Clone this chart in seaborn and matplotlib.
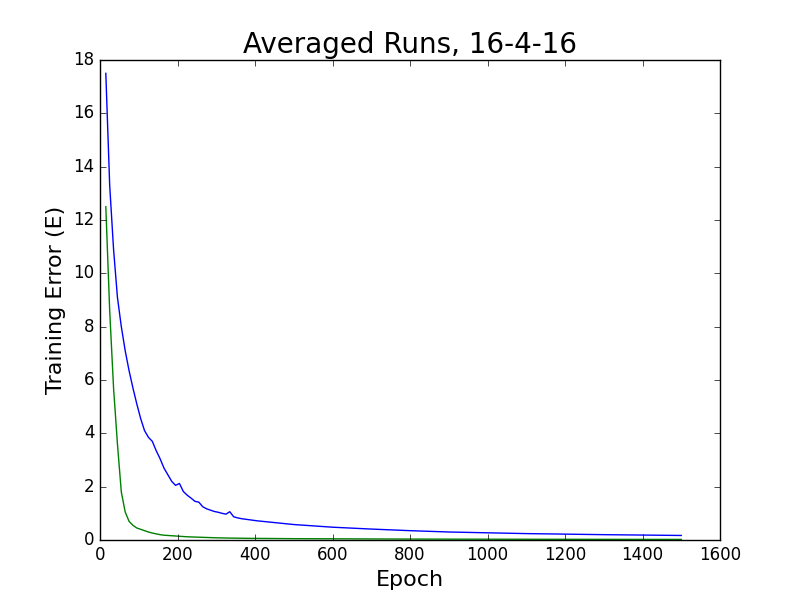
import matplotlib
matplotlib.use("Agg")
import matplotlib.pyplot as plt
import seaborn as sns
import pandas as pd

epochs = [15, 25, 35, 45, 55, 65, 75, 85, 95, 105, 115, 125, 135, 145, 155, 165, 175,
          185, 195, 205, 215, 225, 235, 245, 255, 265, 275, 285, 295, 305, 315, 325,
          335, 345, 355, 365, 375, 385, 395, 405, 500, 600, 700, 800, 900, 1000, 1100,
          1200, 1300, 1400, 1500]

blue_err = [17.5, 13.3, 10.9, 9.1, 8.0, 7.1, 6.35, 5.7, 5.1, 4.55, 4.1, 3.85, 3.7,
            3.35, 3.05, 2.7, 2.45, 2.2, 2.05, 2.12, 1.82, 1.68, 1.57, 1.45, 1.42, 1.25,
            1.17, 1.12, 1.07, 1.04, 1.0, 0.97, 1.06, 0.87, 0.83, 0.80, 0.78, 0.76, 0.74,
            0.72, 0.58, 0.48, 0.41, 0.35, 0.30, 0.27, 0.24, 0.22, 0.20, 0.185, 0.17]

green_err = [12.5, 8.6, 5.7, 3.6, 1.8, 1.05, 0.7, 0.55, 0.45, 0.4, 0.35, 0.3, 0.26,
             0.23, 0.2, 0.18, 0.17, 0.16, 0.15, 0.14, 0.13, 0.12, 0.115, 0.11, 0.105,
             0.1, 0.095, 0.09, 0.085, 0.08, 0.078, 0.075, 0.072, 0.07, 0.068, 0.066,
             0.064, 0.062, 0.06, 0.06, 0.05, 0.045, 0.04, 0.035, 0.032, 0.03, 0.028,
             0.026, 0.025, 0.023, 0.022]

title = "Averaged Runs, 16-4-16"
xlabel = "Epoch"
ylabel = "Training Error (E)"

plt.style.use("classic")
plt.rcParams["figure.facecolor"] = "white"
plt.rcParams["savefig.facecolor"] = "white"
plt.rcParams["font.family"] = ["DejaVu Sans"]

df = pd.DataFrame({"epoch": epochs, "blue": blue_err, "green": green_err})

fig = plt.figure(figsize=(8, 6), dpi=100)
ax = fig.add_axes([0.125, 0.1, 0.775, 0.8])
sns.lineplot(data=df, x="epoch", y="blue", ax=ax, color="b", linewidth=1.0, legend=False)
sns.lineplot(data=df, x="epoch", y="green", ax=ax, color="g", linewidth=1.0, legend=False)

ax.set_xlim(0, 1600)
ax.set_ylim(0, 18)
ax.set_xticks(range(0, 1601, 200))
ax.set_yticks(range(0, 19, 2))
ax.tick_params(labelsize=12)
ax.set_title(title, fontsize=20)
ax.set_xlabel(xlabel, fontsize=16)
ax.set_ylabel(ylabel, fontsize=16)

fig.savefig("out.png", dpi=100)
